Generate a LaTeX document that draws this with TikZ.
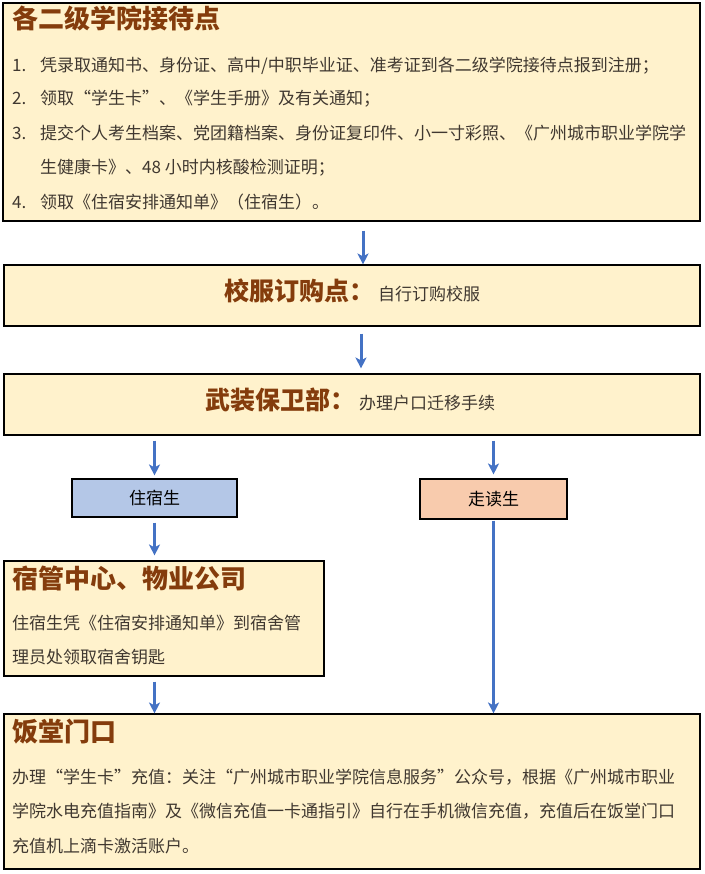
\documentclass[tikz,border=0pt]{standalone}
\usepackage{fontspec}
\setmainfont{Noto Sans CJK SC}
\usetikzlibrary{arrows.meta,positioning}
\definecolor{paper}{HTML}{FFF2CC}
\definecolor{brown}{HTML}{843C0C}
\definecolor{body}{HTML}{403830}
\definecolor{flow}{HTML}{4472C4}
\definecolor{dorm}{HTML}{B4C7E7}
\definecolor{home}{HTML}{F8CBAD}
\newcommand{\stationname}[1]{{\fontsize{25}{25}\selectfont\bfseries\color{brown}#1}}
\tikzset{
  panel/.style={draw=black, line width=1.1pt, fill=paper, inner sep=0pt},
  tag/.style={draw=black, line width=1.1pt, fill=#1, inner sep=0pt, font=\fontsize{17}{17}\selectfont, text=black},
  head/.style={anchor=west, inner sep=0pt, text height=0.88em, text depth=0.12em, font=\fontsize{26}{26}\selectfont\bfseries, text=brown},
  txt/.style={anchor=west, inner sep=0pt, text height=0.88em, text depth=0.12em, font=\fontsize{17}{17}\selectfont, text=body},
  arr/.style={-{Stealth[length=11pt,width=11pt,inset=3pt]}, line width=3pt, draw=flow, shorten <=5pt, shorten >=3pt},
}
\begin{document}
\begin{tikzpicture}[x=1pt, y=-1pt]
  \useasboundingbox (0,0) rectangle (704,874);
  % reception point
  \node[panel, minimum width=697pt, minimum height=218pt] (reception) at (351.5,112) {};
  \node[head] (receptionhead) at (12,25) {各二级学院接待点};
  \foreach \y/\num/\txt in {
      68/1./{凭录取通知书、身份证、高中/中职毕业证、准考证到各二级学院接待点报到注册；},
      101/2./{领取“学生卡”、《学生手册》及有关通知；},
      136/3./{提交个人考生档案、党团籍档案、身份证复印件、小一寸彩照、《广州城市职业学院学},
      170//{生健康卡》、48 小时内核酸检测证明；},
      205/4./{领取《住宿安排通知单》（住宿生）。}} {
    \node[txt] (num\y) at (12,\y) {\num};
    \node[txt] (item\y) at (40,\y) {\txt};
  }
  % uniform and security
  \node[panel, minimum width=696pt, minimum height=61pt] (uniform) at (352,295.5) {};
  \node[txt] (uniformtxt) at (224,297) {\stationname{校服订购点：}\hspace{4pt}自行订购校服};
  \node[panel, minimum width=696pt, minimum height=61pt] (security) at (352,404.5) {};
  \node[txt] (securitytxt) at (205,406) {\stationname{武装保卫部：}\hspace{4pt}办理户口迁移手续};
  % students
  \node[tag=dorm, minimum width=165pt, minimum height=38pt] (boarder) at (154.5,498) {住宿生};
  \node[tag=home, minimum width=147pt, minimum height=40pt] (dayboy) at (493.5,499) {走读生};
  % dormitory
  \node[panel, minimum width=320pt, minimum height=115pt] (hall) at (164,618.5) {};
  \node[head] (hallhead) at (12,585) {宿管中心、物业公司};
  \node[txt] (hall1) at (12,626) {住宿生凭《住宿安排通知单》到宿舍管};
  \node[txt] (hall2) at (12,660) {理员处领取宿舍钥匙};
  % canteen
  \node[panel, minimum width=696pt, minimum height=155pt] (canteen) at (352,791.5) {};
  \node[head] (canteenhead) at (12,738) {饭堂门口};
  \node[txt] (canteen1) at (12,780) {办理“学生卡”充值：关注“广州城市职业学院信息服务”公众号，根据《广州城市职业};
  \node[txt] (canteen2) at (12,814) {学院水电充值指南》及《微信充值一卡通指引》自行在手机微信充值，充值后在饭堂门口};
  \node[txt] (canteen3) at (12,849) {充值机上滴卡激活账户。};
  % arrows
  \draw[arr, shorten <=9pt, shorten >=0pt] (reception.south -| 363,0) -- (uniform.north -| 363,0);
  \draw[arr, shorten <=7pt, shorten >=5pt] (uniform.south -| 361,0) -- (security.north -| 361,0);
  \draw[arr] (security.south -| boarder.north) -- (boarder.north);
  \draw[arr, shorten >=4pt] (security.south -| dayboy.north) -- (dayboy.north);
  \draw[arr, shorten >=5pt] (boarder.south) -- (hall.north -| boarder.south);
  \draw[arr, shorten >=0pt] (hall.south -| boarder.south) -- (canteen.north -| boarder.south);
  \draw[arr, shorten <=1pt, shorten >=0pt] (dayboy.south) -- (canteen.north -| dayboy.south);
\end{tikzpicture}
\end{document}
